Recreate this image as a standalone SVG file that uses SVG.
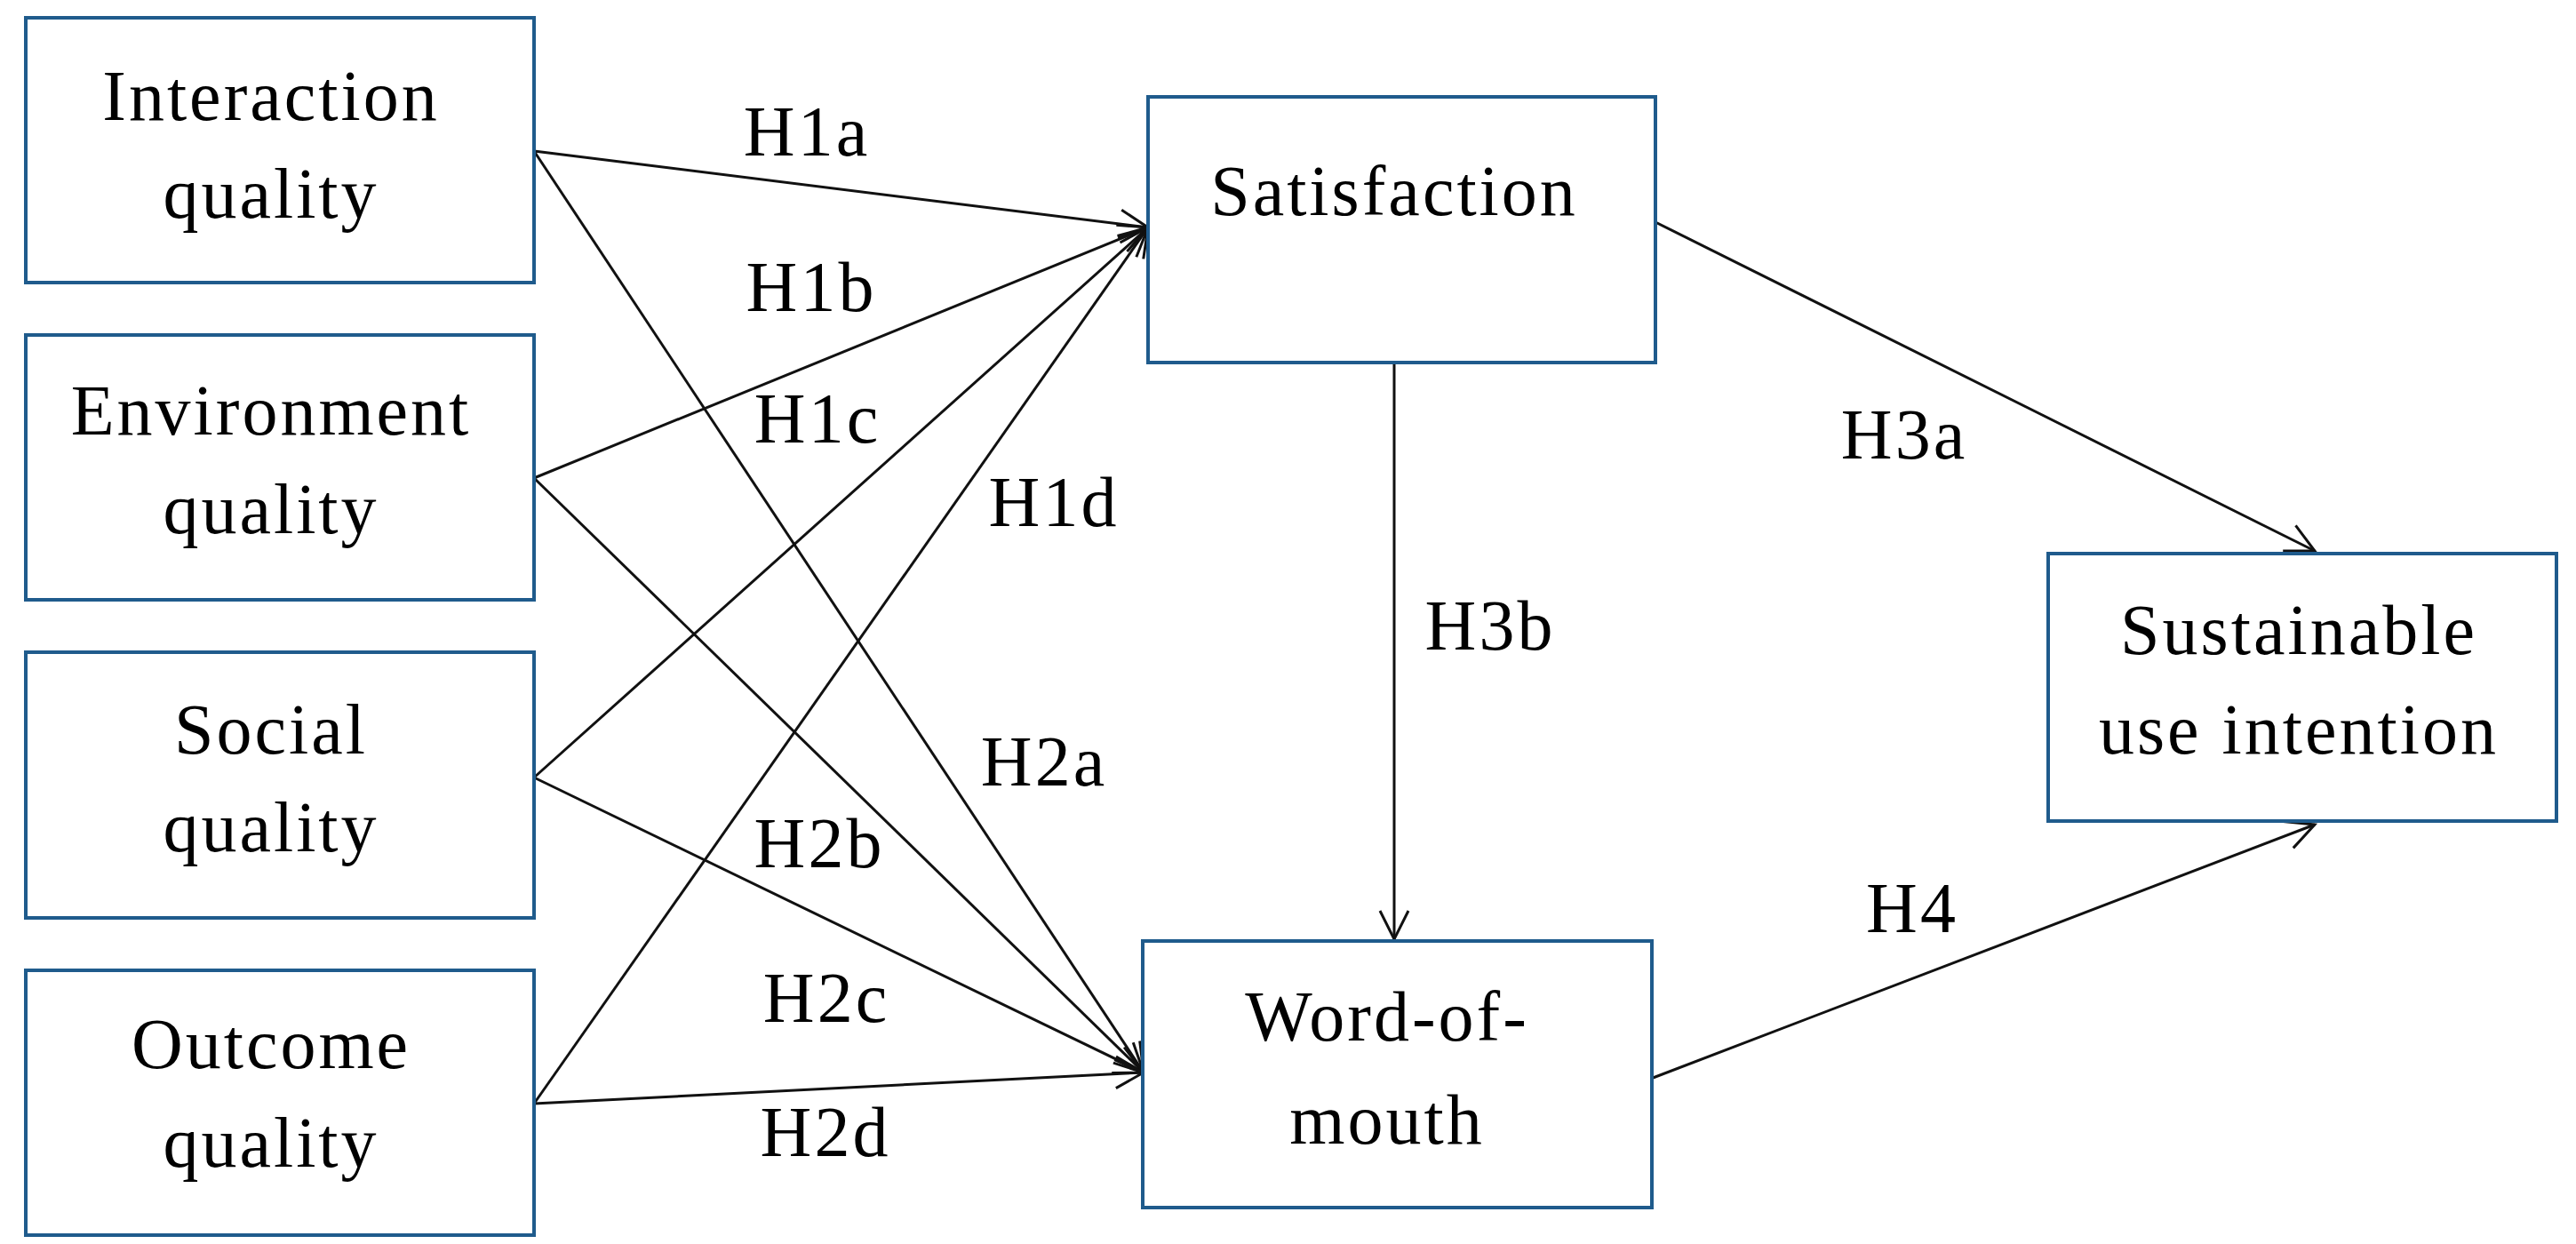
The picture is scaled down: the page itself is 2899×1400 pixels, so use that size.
<svg xmlns="http://www.w3.org/2000/svg" width="2899" height="1400" viewBox="0 0 2899 1400">
<style>
rect{fill:#fff;stroke:#1f5b8c;stroke-width:4}
text{font-family:"Liberation Serif",serif;font-size:80px;fill:#000;text-anchor:middle;letter-spacing:3px}
line{stroke:#111;stroke-width:3;marker-end:url(#a)}
</style>
<defs><marker id="a" markerUnits="userSpaceOnUse" markerWidth="50" markerHeight="50" refX="40" refY="20" orient="auto" viewBox="0 0 50 40"><path d="M8,4 L40,20 L8,36" fill="none" stroke="#111" stroke-width="3"/></marker></defs>
<rect width="2899" height="1400" style="stroke:none"/>
<g id="connectors">
<line x1="601" y1="170" x2="1292" y2="256"/>
<line x1="601" y1="538" x2="1292" y2="256"/>
<line x1="601" y1="875" x2="1292" y2="256"/>
<line x1="601" y1="1242" x2="1292" y2="256"/>
<line x1="601" y1="170" x2="1287" y2="1207"/>
<line x1="601" y1="538" x2="1287" y2="1207"/>
<line x1="601" y1="875" x2="1287" y2="1207"/>
<line x1="601" y1="1242" x2="1287" y2="1207"/>
<line x1="1569" y1="408" x2="1569" y2="1057"/>
<line x1="1861" y1="249" x2="2605" y2="620"/>
<line x1="1855" y1="1215" x2="2605" y2="928"/>
<text x="908" y="175">H1a</text>
<text x="913" y="350">H1b</text>
<text x="920" y="498">H1c</text>
<text x="1186" y="592">H1d</text>
<text x="1175" y="884">H2a</text>
<text x="922" y="976">H2b</text>
<text x="930" y="1150">H2c</text>
<text x="929" y="1301">H2d</text>
<text x="2143" y="516">H3a</text>
<text x="1677" y="731">H3b</text>
<text x="2152" y="1049">H4</text>
</g>
<g id="interaction"><rect x="29" y="20" width="572" height="298"/><text x="305" y="135">Interaction</text><text x="305" y="245">quality</text></g>
<g id="environment"><rect x="29" y="377" width="572" height="298"/><text x="305" y="489">Environment</text><text x="305" y="600">quality</text></g>
<g id="social"><rect x="29" y="734" width="572" height="299"/><text x="305" y="848">Social</text><text x="305" y="958">quality</text></g>
<g id="outcome"><rect x="29" y="1092" width="572" height="298"/><text x="305" y="1202">Outcome</text><text x="305" y="1313">quality</text></g>
<g id="satisfaction"><rect x="1292" y="109" width="571" height="299"/><text x="1569" y="242">Satisfaction</text></g>
<g id="wom"><rect x="1286" y="1059" width="573" height="300"/><text x="1561" y="1171">Word-of-</text><text x="1561" y="1287">mouth</text></g>
<g id="sustainable"><rect x="2305" y="623" width="572" height="301"/><text x="2587" y="736">Sustainable</text><text x="2587" y="848">use intention</text></g>
</svg>
